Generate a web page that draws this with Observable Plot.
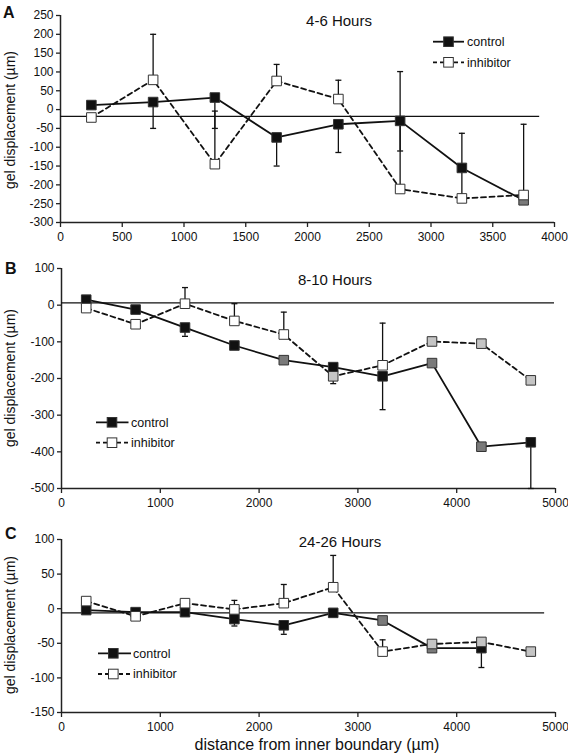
<!DOCTYPE html>
<html><head><meta charset="utf-8">
<script src="https://cdn.jsdelivr.net/npm/d3@7"></script>
<script src="https://cdn.jsdelivr.net/npm/@observablehq/plot@0.6"></script>
<style>
body{margin:0;background:#fff;}
#chart{position:relative;width:568px;height:755px;font-family:"Liberation Sans",Arial,sans-serif;color:#111;}
#chart svg{position:absolute;left:0;overflow:visible;}
</style></head><body><div id="chart"></div><script>
// ---------- data ----------
const distA = [250, 750, 1250, 1750, 2250, 2750, 3250, 3750];
const controlA = [12, 20, 32, -74, -39, -30, -155, -241];
const inhibitorA = [-21, 79, -145, 76, 28, -211, -236, -227];
const controlErrEndA = [null, -50, -50, -150, -114, -110, null, null];
const inhibitorErrEndA = [null, 200, -4, 120, 78, 101, -63, -39];
const controlShadeA = ["black","black","black","black","black","black","black","dark"];
const inhibitorShadeA = ["white","white","white","white","white","white","white","white"];
const xTicksA = [0, 500, 1000, 1500, 2000, 2500, 3000, 3500, 4000];
const yTicksA = [-300, -250, -200, -150, -100, -50, 0, 50, 100, 150, 200, 250];
const refLineA = [-18, 3880];

const distBC = [250, 750, 1250, 1750, 2250, 2750, 3250, 3750, 4250, 4750];
const controlB = [15, -12, -61, -110, -150, -169, -194, -158, -386, -374];
const inhibitorB = [-8, -52, 4, -43, -80, -194, -164, -99, -105, -205];
const controlErrEndB = [null, null, -85, null, null, -214, -285, null, null, -500];
const inhibitorErrEndB = [null, null, 48, 4, -19, null, -49, null, null, null];
const controlShadeB = ["black","black","black","black","dark","black","black","dark","dark","black"];
const inhibitorShadeB = ["white","white","white","white","white","light","white","light","light","light"];
const xTicksBC = [0, 1000, 2000, 3000, 4000, 5000];
const yTicksB = [-500, -400, -300, -200, -100, 0, 100];
const refLineB = [6, 4990];

const controlC = [-2, -5, -5, -15, -24, -6, -17, -57, -57, null];
const inhibitorC = [11, -11, 8, -1, 8, 31, -62, -51, -48, -62];
const controlErrEndC = [null, null, null, -25, -37, null, null, null, -85, null];
const inhibitorErrEndC = [null, null, null, 12, 35, 77, -45, null, null, null];
const controlShadeC = ["black","black","black","black","black","black","dark","dark","black",null];
const inhibitorShadeC = ["white","white","white","white","white","white","white","light","light","light"];
const yTicksC = [-150, -100, -50, 0, 50, 100];
const refLineC = [-6, 4890];

const titles = ["4-6 Hours", "8-10 Hours", "24-26 Hours"];
const letters = ["A", "B", "C"];
const seriesNames = ["control", "inhibitor"];
const yLabel = "gel displacement (µm)";
const xLabel = "distance from inner boundary (µm)";

// ---------- styling ----------
const shadeColor = {black: "#111", dark: "#7a7a7a", light: "#c4c4c4", white: "#fff"};
const FONT = "'Liberation Sans', Arial, sans-serif";
const capSymbol = {draw(ctx, size) { const w = Math.sqrt(size / Math.PI); ctx.moveTo(-w, 0); ctx.lineTo(w, 0); }};

const chart = document.getElementById("chart");

function panel(cfg) {
  const rows = (vals, errs, shades) => cfg.dist.map((x, i) => ({x, y: vals[i], err: errs[i], shade: shades[i]})).filter(d => d.y != null);
  const c = rows(cfg.control, cfg.controlErr, cfg.controlShade);
  const h = rows(cfg.inhibitor, cfg.inhibitorErr, cfg.inhibitorShade);
  const errs = [...c, ...h].filter(d => d.err != null);
  const ref = [{y: cfg.ref[0], x1: cfg.xDomain[0], x2: cfg.ref[1]}];
  const svg = Plot.plot({
    width: 568, height: cfg.height,
    marginTop: cfg.mt, marginBottom: cfg.mb, marginLeft: cfg.ml, marginRight: cfg.mr,
    style: {fontFamily: FONT, fontSize: "12px", color: "#111", background: "transparent"},
    x: {domain: cfg.xDomain},
    y: {domain: cfg.yDomain},
    color: {type: "identity"},
    marks: [
      Plot.ruleX([cfg.xDomain[0]], {stroke: "#222", strokeWidth: 1.5}),
      Plot.ruleY([cfg.yDomain[0]], {stroke: "#222", strokeWidth: 1.5}),
      Plot.axisX({ticks: cfg.xTicks, tickSize: 5, tickPadding: 5, label: null, tickFormat: d => String(d), stroke: "#222", strokeWidth: 1.3}),
      Plot.axisY({ticks: cfg.yTicks, tickSize: 4, tickPadding: 3, label: null, tickFormat: d => String(d), stroke: "#222", strokeWidth: 1.3}),
      Plot.ruleY(ref, {y: "y", x1: "x1", x2: "x2", stroke: "#111", strokeWidth: 1.3}),
      Plot.ruleX(errs, {x: "x", y1: "y", y2: "err", stroke: "#111", strokeWidth: 1.3}),
      Plot.dot(errs, {x: "x", y: "err", symbol: capSymbol, r: 3, fill: "none", stroke: "#111", strokeWidth: 1.3}),
      Plot.line(c, {x: "x", y: "y", stroke: "#111", strokeWidth: 1.8}),
      Plot.line(h, {x: "x", y: "y", stroke: "#111", strokeWidth: 1.8, strokeDasharray: "5,3.5"}),
      Plot.dot(c, {x: "x", y: "y", symbol: "square", r: 5.4, fill: d => shadeColor[d.shade], stroke: "#333", strokeWidth: 1}),
      Plot.dot(h, {x: "x", y: "y", symbol: "square", r: 5.4, fill: d => shadeColor[d.shade], stroke: "#333", strokeWidth: 1})
    ]
  });
  svg.style.top = cfg.top + "px";
  chart.appendChild(svg);
}

panel({dist: distA, control: controlA, inhibitor: inhibitorA, controlErr: controlErrEndA, inhibitorErr: inhibitorErrEndA,
  controlShade: controlShadeA, inhibitorShade: inhibitorShadeA, xDomain: [0, 4000], yDomain: [-300, 250],
  xTicks: xTicksA, yTicks: yTicksA, ref: refLineA, top: 0, height: 250, mt: 15, mb: 28, ml: 60, mr: 14});
panel({dist: distBC, control: controlB, inhibitor: inhibitorB, controlErr: controlErrEndB, inhibitorErr: inhibitorErrEndB,
  controlShade: controlShadeB, inhibitorShade: inhibitorShadeB, xDomain: [0, 5000], yDomain: [-500, 100],
  xTicks: xTicksBC, yTicks: yTicksB, ref: refLineB, top: 250, height: 266, mt: 18, mb: 28, ml: 61, mr: 13});
panel({dist: distBC, control: controlC, inhibitor: inhibitorC, controlErr: controlErrEndC, inhibitorErr: inhibitorErrEndC,
  controlShade: controlShadeC, inhibitorShade: inhibitorShadeC, xDomain: [0, 5000], yDomain: [-150, 100],
  xTicks: xTicksBC, yTicks: yTicksC, ref: refLineC, top: 516, height: 220, mt: 23, mb: 24, ml: 61, mr: 13});

// ---------- annotations: letters, titles, axis labels, legends ----------
const ov = d3.create("svg").attr("width", 568).attr("height", 755).style("top", "0px")
  .attr("font-family", FONT).attr("fill", "#111");
const letterPos = [[3, 18], [5, 274], [5, 539]];
letters.forEach((t, i) => ov.append("text").attr("x", letterPos[i][0]).attr("y", letterPos[i][1])
  .attr("font-size", 16).attr("font-weight", "bold").text(t));
const titlePos = [[339, 26], [335, 284.5], [340, 547]];
titles.forEach((t, i) => ov.append("text").attr("x", titlePos[i][0]).attr("y", titlePos[i][1])
  .attr("text-anchor", "middle").attr("font-size", 15).text(t));
[120, 378, 625].forEach(cy => ov.append("text").attr("transform", `translate(15,${cy}) rotate(-90)`)
  .attr("text-anchor", "middle").attr("font-size", 14).text(yLabel));
ov.append("text").attr("x", 317).attr("y", 750).attr("text-anchor", "middle").attr("font-size", 16).text(xLabel);

const legends = [
  {x0: 433, x1: 464, xm: 448.5, tx: 467, ys: [41.7, 62.3]},
  {x0: 96, x1: 128.5, xm: 112, tx: 131, ys: [422.3, 442.7]},
  {x0: 98, x1: 131, xm: 113.3, tx: 133, ys: [653.3, 674]}
];
legends.forEach(L => {
  seriesNames.forEach((name, k) => {
    const y = L.ys[k];
    ov.append("line").attr("x1", L.x0).attr("x2", L.x1).attr("y1", y).attr("y2", y)
      .attr("stroke", "#111").attr("stroke-width", 1.8).attr("stroke-dasharray", k ? "4,3" : null);
    ov.append("rect").attr("x", L.xm - 4.8).attr("y", y - 4.8).attr("width", 9.6).attr("height", 9.6)
      .attr("fill", k ? "#fff" : "#111").attr("stroke", "#333").attr("stroke-width", 1);
    ov.append("text").attr("x", L.tx).attr("y", y + 4.3).attr("font-size", 12.5).text(name);
  });
});
chart.appendChild(ov.node());
</script></body></html>
